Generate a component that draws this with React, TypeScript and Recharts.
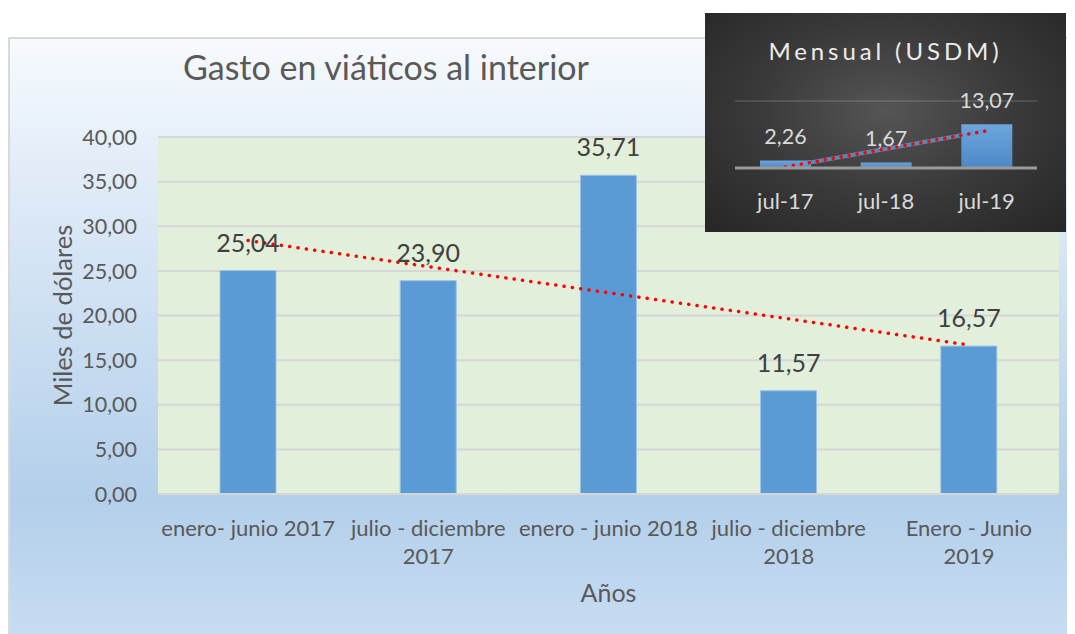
import React from 'react';
import { ComposedChart, Bar, Line, XAxis, YAxis, CartesianGrid, LabelList, Label, ReferenceLine } from 'recharts';

// semestres
const categories = ['enero- junio 2017', 'julio - diciembre\n2017', 'enero - junio 2018', 'julio - diciembre\n2018', 'Enero - Junio\n2019'];
const gasto = [25.04, 23.9, 35.71, 11.57, 16.57];
const tendencia = [28.4, null, null, null, 16.7];
const yTicks = [0, 5, 10, 15, 20, 25, 30, 35, 40];

// recuadro mensual
const meses = ['jul-17', 'jul-18', 'jul-19'];
const mensual = [2.26, 1.67, 13.07];
const tendenciaMensual = [0.3, null, 11.1];

const FONT = "Lato, 'Open Sans', sans-serif";
const fmt = (v: number) => v.toFixed(2).replace('.', ',');

const data = categories.map((c, i) => ({ name: c, gasto: gasto[i], tendencia: tendencia[i] }));
const dataMensual = meses.map((m, i) => ({ name: m, valor: mensual[i], tendencia: tendenciaMensual[i] }));

const CategoryTick = ({ x, y, payload }: any) => {
    const lines = String(payload.value).split('\n');
    return (
        <text x={x} y={y} textAnchor="middle" fill="#595959" fontSize={22} fontFamily={FONT}>
            {lines.map((l, i) => (
                <tspan key={i} x={x} dy={i === 0 ? 40 : 28}>{l}</tspan>
            ))}
        </text>
    );
};

const MesTick = ({ x, y, payload }: any) => (
    <text x={x} y={y + 39} textAnchor="middle" fill="#D9D9D9" fontSize={22} fontFamily={FONT}>
        {payload.value}
    </text>
);

function Mensual() {
    return (
        <div style={{
            position: 'absolute', left: 697, top: 5, width: 361, height: 219,
            background: 'radial-gradient(ellipse at 50% 45%, #555555 0%, #3a3a3a 50%, #262626 100%)',
        }}>
            <div style={{
                position: 'absolute', left: 0, top: 23, width: 361, textAlign: 'center',
                color: '#EDEDED', fontFamily: FONT, fontSize: 24, letterSpacing: 3.9,
            }}>
                Mensual (USDM)
            </div>
            <ComposedChart width={361} height={219} data={dataMensual}
                margin={{ top: 88, right: 29, left: 30, bottom: 0 }} style={{ position: 'absolute', left: 0, top: 0 }}>
                <defs>
                    <linearGradient id="barMes" x1="0" y1="0" x2="0" y2="1">
                        <stop offset="0%" stopColor="#6EA6DB" />
                        <stop offset="100%" stopColor="#4A88C6" />
                    </linearGradient>
                </defs>
                <YAxis hide domain={[0, 20]} />
                <ReferenceLine y={20} stroke="rgba(255,255,255,0.12)" strokeWidth={2} />
                <XAxis dataKey="name" height={64} tick={<MesTick />} tickLine={false} tickSize={0}
                    axisLine={{ stroke: '#9A9A9A', strokeWidth: 3 }} />
                <Bar dataKey="valor" fill="url(#barMes)" barSize={51} isAnimationActive={false}>
                    <LabelList dataKey="valor" position="top" offset={16} formatter={(v: any) => fmt(Number(v))}
                        fill="#D9D9D9" fontSize={21.5} fontFamily={FONT} />
                </Bar>
                <Line dataKey="tendencia" connectNulls stroke="#5B9BD5" strokeWidth={4} strokeOpacity={0.8}
                    dot={false} activeDot={false} isAnimationActive={false} />
                <Line dataKey="tendencia" connectNulls stroke="#FF0000" strokeWidth={3.5} strokeDasharray="0.1 8"
                    strokeLinecap="round" dot={false} activeDot={false} isAnimationActive={false} />
            </ComposedChart>
        </div>
    );
}

export default function App() {
    return (
        <div style={{ position: 'relative', width: 1067, height: 626, overflow: 'hidden' }}>
            <div style={{
                position: 'absolute', left: 0, top: 29, width: 1085, height: 610,
                border: '2px solid #D9D9D9', boxSizing: 'border-box',
                background: 'linear-gradient(to bottom, #F7FAFD 0%, #E3EDF8 20%, #C9DDF1 50%, #B3CFEA 76%, #C8DDF2 100%)',
            }} />
            <div style={{
                position: 'absolute', left: 0, top: 38, width: 756, textAlign: 'center',
                color: '#595959', fontFamily: FONT, fontSize: 34,
            }}>
                Gasto en viáticos al interior
            </div>
            <ComposedChart width={1067} height={597} data={data}
                margin={{ top: 100, right: 16, left: 0, bottom: 0 }}
                style={{ position: 'absolute', left: 0, top: 29 }}>
                <CartesianGrid vertical={false} fill="#E2EFDA" stroke="#D6D6D6" strokeWidth={2} />
                <YAxis domain={[0, 40]} ticks={yTicks} width={150} tickFormatter={fmt}
                    axisLine={false} tickLine={false} tickSize={0} tickMargin={21}
                    tick={{ fill: '#595959', fontSize: 21.5, fontFamily: FONT }}>
                    <Label content={({ viewBox }: any) => {
                        const cx = 54;
                        const cy = viewBox.y + viewBox.height / 2;
                        return (
                            <text x={cx} y={cy} transform={`rotate(-90 ${cx} ${cy})`} textAnchor="middle"
                                dominantBaseline="central" fill="#595959" fontSize={25.5} fontFamily={FONT}>
                                Miles de dólares
                            </text>
                        );
                    }} />
                </YAxis>
                <XAxis dataKey="name" height={140} interval={0} tick={<CategoryTick />} tickLine={false} tickSize={0}
                    axisLine={{ stroke: '#D6D6D6', strokeWidth: 2 }}>
                    <Label content={({ viewBox }: any) => (
                        <text x={viewBox.x + viewBox.width / 2} y={565} textAnchor="middle"
                            fill="#595959" fontSize={25} fontFamily={FONT}>
                            Años
                        </text>
                    )} />
                </XAxis>
                <Bar dataKey="gasto" fill="#5B9BD5" stroke="#9DC3E6" strokeWidth={1} barSize={56} isAnimationActive={false}>
                    <LabelList dataKey="gasto" position="top" offset={19} formatter={(v: any) => fmt(Number(v))}
                        fill="#404040" fontSize={25} fontFamily={FONT} />
                </Bar>
                <Line dataKey="tendencia" connectNulls stroke="#FF0000" strokeWidth={3.5} strokeDasharray="0.1 8.3"
                    strokeLinecap="round" dot={false} activeDot={false} isAnimationActive={false} />
            </ComposedChart>
            <Mensual />
        </div>
    );
}
